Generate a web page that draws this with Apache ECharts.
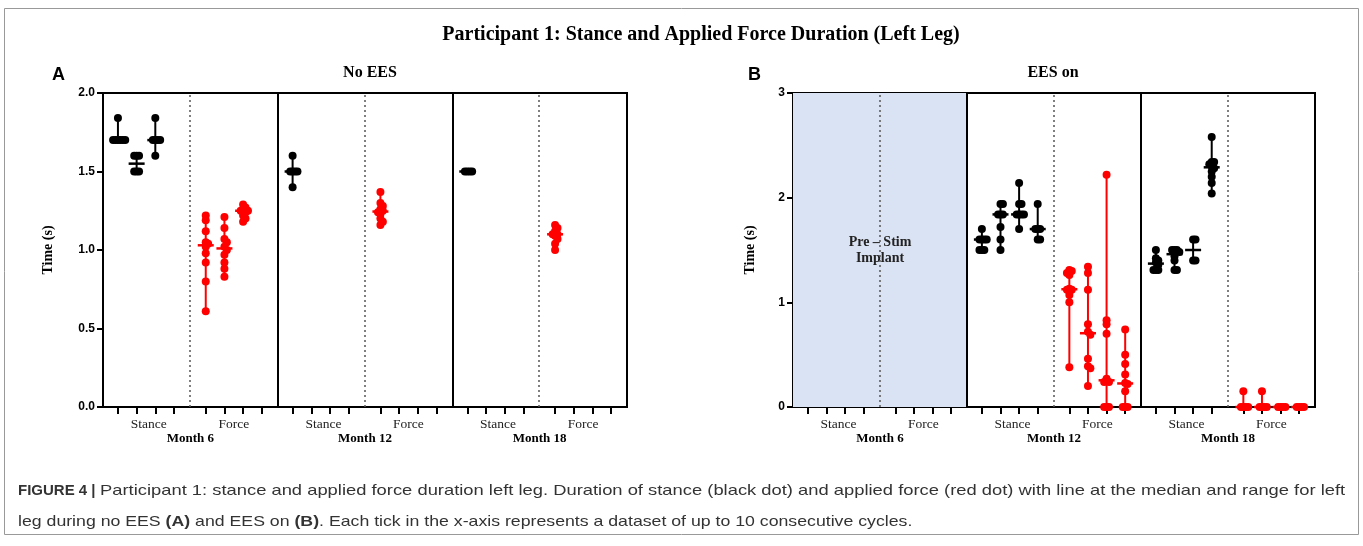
<!DOCTYPE html>
<html>
<head>
<meta charset="utf-8">
<script src="https://cdn.jsdelivr.net/npm/echarts@6.0.0/dist/echarts.min.js"></script>
<style>
  html, body { margin: 0; padding: 0; background: #fff; }
  #chart { width: 1363px; height: 546px; }
</style>
</head>
<body>
<div id="chart"></div>
<script>
// x axis groups
var months = ['Month 6', 'Month 12', 'Month 18'];
var groups = ['Stance', 'Force'];
var yTicksA = [0, 0.5, 1.0, 1.5, 2.0];
var yTicksB = [0, 1, 2, 3];

// A - No EES, one list per tick (dataset of up to 10 cycles), seconds
var aStanceM6 = [
  [1.84, 1.70, 1.70, 1.70, 1.70, 1.70, 1.70],
  [1.60, 1.60, 1.60, 1.50, 1.50, 1.50],
  [1.84, 1.70, 1.70, 1.70, 1.70, 1.60]
];
var aForceM6 = [
  [1.22, 1.19, 1.12, 1.05, 1.04, 1.02, 0.98, 0.92, 0.80, 0.61],
  [1.21, 1.14, 1.07, 1.05, 1.02, 1.00, 0.97, 0.92, 0.88, 0.83],
  [1.29, 1.27, 1.26, 1.25, 1.25, 1.24, 1.22, 1.20, 1.18]
];
var aStanceM12 = [[1.60, 1.50, 1.50, 1.50, 1.50, 1.40]];
var aForceM12 = [[1.37, 1.30, 1.28, 1.26, 1.25, 1.24, 1.23, 1.20, 1.18, 1.16]];
var aStanceM18 = [[1.50, 1.50, 1.50, 1.50]];
var aForceM18 = [[1.16, 1.14, 1.12, 1.10, 1.10, 1.09, 1.07, 1.04, 1.00]];

// B - EES on (month 6 is pre-stim implant, no data)
var bStanceM6 = [];
var bForceM6 = [];
var bStanceM12 = [
  [1.70, 1.60, 1.60, 1.60, 1.60, 1.50, 1.50, 1.50],
  [1.94, 1.94, 1.84, 1.84, 1.84, 1.72, 1.60, 1.50],
  [2.14, 1.94, 1.94, 1.84, 1.84, 1.84, 1.84, 1.70],
  [1.94, 1.70, 1.70, 1.70, 1.60, 1.60]
];
var bForceM12 = [
  [1.31, 1.30, 1.28, 1.26, 1.13, 1.12, 1.12, 1.07, 1.00, 0.38],
  [1.34, 1.28, 1.12, 0.79, 0.72, 0.69, 0.46, 0.39, 0.37, 0.20],
  [2.22, 0.83, 0.79, 0.70, 0.27, 0.24, 0.24, 0, 0, 0],
  [0.74, 0.50, 0.41, 0.31, 0.23, 0.22, 0.15, 0, 0, 0]
];
var bStanceM18 = [
  [1.50, 1.42, 1.40, 1.38, 1.36, 1.31, 1.31, 1.31],
  [1.50, 1.50, 1.50, 1.48, 1.44, 1.40, 1.31, 1.31],
  [1.60, 1.60, 1.40, 1.40],
  [2.58, 2.34, 2.34, 2.32, 2.30, 2.28, 2.25, 2.20, 2.14, 2.04]
];
var bForceM18 = [
  [0.15, 0, 0, 0, 0],
  [0.15, 0, 0, 0, 0],
  [0, 0, 0, 0],
  [0, 0, 0, 0]
];

// layout of one month block, in tick units
var L = 9.35, stanceStart = 0.8, forceStart = 5.5, splitPos = 4.65;
var SERIF = '"Liberation Serif", "Times New Roman", serif';
var SANS = '"Liberation Sans", Arial, sans-serif';

function median(arr) {
  var s = arr.slice().sort(function (a, b) { return a - b; });
  var n = s.length;
  return n % 2 ? s[(n - 1) / 2] : (s[n / 2 - 1] + s[n / 2]) / 2;
}

// spread overlapping dots sideways, like a scatter column plot
function swarm(vals, tolV, step) {
  var placed = [];
  var order = vals.map(function (v, i) { return i; })
    .sort(function (a, b) { return vals[b] - vals[a]; });
  order.forEach(function (i) {
    var v = vals[i];
    for (var k = 0; k < 30; k++) {
      var off = (k % 2 === 1 ? 1 : -1) * Math.ceil(k / 2) * step;
      var clash = placed.some(function (p) {
        return Math.abs(p[1] - v) < tolV && Math.abs(p[0] - off) < step * 0.5;
      });
      if (!clash) { placed.push([off, v]); break; }
    }
  });
  return placed;
}

function buildPanel(stanceByMonth, forceByMonth, tolV) {
  var out = { black: [], red: [], blackSum: [], redSum: [] };
  function add(lists, start, m, dots, sums) {
    lists.forEach(function (vals, i) {
      var x = m * L + start + i;
      swarm(vals, tolV, 0.13).forEach(function (p) { dots.push([x + p[0], p[1]]); });
      sums.push([x, Math.min.apply(null, vals), Math.max.apply(null, vals), median(vals)]);
    });
  }
  for (var m = 0; m < 3; m++) {
    add(stanceByMonth[m], stanceStart, m, out.black, out.blackSum);
    add(forceByMonth[m], forceStart, m, out.red, out.redSum);
  }
  return out;
}

var panelA = buildPanel([aStanceM6, aStanceM12, aStanceM18], [aForceM6, aForceM12, aForceM18], 0.025);
var panelB = buildPanel([bStanceM6, bStanceM12, bStanceM18], [bForceM6, bForceM12, bForceM18], 0.035);

var tickVals = [], stanceLabelVals = [], monthVals = [];
for (var m = 0; m < 3; m++) {
  for (var i = 0; i < 4; i++) {
    tickVals.push(m * L + stanceStart + i);
    tickVals.push(m * L + forceStart + i);
  }
  stanceLabelVals.push(m * L + 2.45, m * L + 7.0);
  monthVals.push(m * L + L / 2);
}

function renderSummary(params, api) {
  var x = api.value(0);
  var lo = api.coord([x, api.value(1)]);
  var hi = api.coord([x, api.value(2)]);
  var md = api.coord([x, api.value(3)]);
  var c = api.visual('color');
  return {
    type: 'group',
    children: [
      { type: 'line', shape: { x1: hi[0], y1: hi[1], x2: lo[0], y2: lo[1] }, style: { stroke: c, lineWidth: 2 } },
      { type: 'line', shape: { x1: md[0] - 8, y1: md[1], x2: md[0] + 8, y2: md[1] }, style: { stroke: c, lineWidth: 2.5 } }
    ]
  };
}

function dividerLines() {
  var d = [];
  for (var m = 0; m < 3; m++) {
    d.push({ xAxis: m * L + splitPos, lineStyle: { type: [2, 3], color: '#555', width: 1.5 } });
    if (m > 0) d.push({ xAxis: m * L, lineStyle: { type: 'solid', color: '#000', width: 2 } });
  }
  return d;
}

function xAxes(g) {
  return [{
    type: 'value', gridIndex: g, position: 'bottom', min: 0, max: 3 * L,
    axisLine: { show: true, lineStyle: { color: '#000', width: 2 } },
    axisTick: { show: true, customValues: tickVals, length: 7, lineStyle: { color: '#000', width: 2 } },
    axisLabel: {
      show: true, customValues: stanceLabelVals, margin: 10,
      fontFamily: SERIF, fontSize: 13.5, color: '#222',
      formatter: function (v) { return (v % L) < splitPos ? groups[0] : groups[1]; }
    },
    splitLine: { show: false }
  }, {
    type: 'value', gridIndex: g, position: 'bottom', min: 0, max: 3 * L,
    axisLine: { show: false }, axisTick: { show: false },
    axisLabel: {
      show: true, customValues: monthVals, margin: 25,
      fontFamily: SERIF, fontSize: 13, fontWeight: 'bold', color: '#000',
      formatter: function (v) { return months[Math.floor(v / L)]; }
    },
    splitLine: { show: false }
  }];
}

function yAxis(g, ticks, digits, gap) {
  return {
    type: 'value', gridIndex: g, min: ticks[0], max: ticks[ticks.length - 1],
    interval: ticks[1] - ticks[0],
    name: 'Time (s)', nameLocation: 'middle', nameGap: gap,
    nameTextStyle: { fontFamily: SERIF, fontWeight: 'bold', fontSize: 14, color: '#000' },
    axisLine: { show: true, lineStyle: { color: '#000', width: 2 } },
    axisTick: { show: true, length: 6, lineStyle: { color: '#000', width: 2 } },
    axisLabel: {
      margin: 8, fontFamily: SANS, fontWeight: 'bold', fontSize: 12, color: '#000',
      formatter: function (v) { return v.toFixed(digits); }
    },
    splitLine: { show: false }
  };
}

function panelSeries(p, g, shaded) {
  var s = [
    {
      type: 'scatter', xAxisIndex: g * 2, yAxisIndex: g, data: [], silent: true, z: 1,
      markLine: { silent: true, symbol: ['none', 'none'], label: { show: false }, data: dividerLines() }
    },
    { type: 'custom', xAxisIndex: g * 2, yAxisIndex: g, renderItem: renderSummary, data: p.blackSum,
      encode: { x: 0, y: [1, 2, 3] }, itemStyle: { color: '#000' }, z: 4, silent: true },
    { type: 'custom', xAxisIndex: g * 2, yAxisIndex: g, renderItem: renderSummary, data: p.redSum,
      encode: { x: 0, y: [1, 2, 3] }, itemStyle: { color: '#ff0000' }, z: 4, silent: true },
    { type: 'scatter', xAxisIndex: g * 2, yAxisIndex: g, data: p.black, symbolSize: 8,
      itemStyle: { color: '#000', opacity: 1 }, clip: false, z: 3, silent: true },
    { type: 'scatter', xAxisIndex: g * 2, yAxisIndex: g, data: p.red, symbolSize: 8,
      itemStyle: { color: '#ff0000', opacity: 1 }, clip: false, z: 3, silent: true }
  ];
  if (shaded) {
    s.push({
      type: 'scatter', xAxisIndex: g * 2, yAxisIndex: g, data: [], silent: true, z: 0,
      markArea: {
        silent: true,
        itemStyle: { color: '#dae3f3' },
        label: {
          show: true, position: 'inside', formatter: 'Pre – Stim\nImplant',
          fontFamily: SERIF, fontWeight: 'bold', fontSize: 14, color: '#222', lineHeight: 16
        },
        data: [[{ xAxis: 0 }, { xAxis: L }]]
      }
    });
  }
  return s;
}

var capFont = '15px ' + SANS;
var capRich = { b: { fontWeight: 'bold', fontFamily: SANS, fontSize: 15, fill: '#333' } };

var chart = echarts.init(document.getElementById('chart'));
chart.setOption({
  backgroundColor: '#fff',
  animation: false,
  grid: [
    { left: 103, top: 93, width: 524, height: 314, show: true, borderColor: '#000', borderWidth: 2 },
    { left: 793, top: 93, width: 522, height: 314, show: true, borderColor: '#000', borderWidth: 2 }
  ],
  xAxis: xAxes(0).concat(xAxes(1)),
  yAxis: [yAxis(0, yTicksA, 1, 48), yAxis(1, yTicksB, 0, 36)],
  series: panelSeries(panelA, 0, false).concat(panelSeries(panelB, 1, true)),
  graphic: [
    { type: 'rect', silent: true, shape: { x: 4.5, y: 8.5, width: 1354, height: 526 },
      style: { fill: 'none', stroke: '#999', lineWidth: 1 } },
    { type: 'text', silent: true, x: 701, y: 35,
      style: { text: 'Participant 1: Stance and Applied Force Duration (Left Leg)', textAlign: 'center',
        textVerticalAlign: 'middle', font: 'bold 20px ' + SERIF, fill: '#000' } },
    { type: 'text', silent: true, x: 370, y: 73,
      style: { text: 'No EES', textAlign: 'center', textVerticalAlign: 'middle', font: 'bold 16px ' + SERIF, fill: '#000' } },
    { type: 'text', silent: true, x: 1053, y: 73,
      style: { text: 'EES on', textAlign: 'center', textVerticalAlign: 'middle', font: 'bold 16px ' + SERIF, fill: '#000' } },
    { type: 'text', silent: true, x: 52, y: 75,
      style: { text: 'A', textAlign: 'left', textVerticalAlign: 'middle', font: 'bold 18px ' + SANS, fill: '#000' } },
    { type: 'text', silent: true, x: 748, y: 75,
      style: { text: 'B', textAlign: 'left', textVerticalAlign: 'middle', font: 'bold 18px ' + SANS, fill: '#000' } },
    { type: 'text', silent: true, x: 18, y: 491,
      style: { text: 'FIGURE 4 |', textAlign: 'left', textVerticalAlign: 'middle',
        font: 'bold 15px ' + SANS, fill: '#333' } },
    { type: 'text', silent: true, x: 100, y: 491, scaleX: 1.224,
      style: {
        text: 'Participant 1: stance and applied force duration left leg. Duration of stance (black dot) and applied force (red dot) with line at the median and range for left',
        textAlign: 'left', textVerticalAlign: 'middle', font: capFont, fill: '#333'
      } },
    { type: 'text', silent: true, x: 18, y: 522, scaleX: 1.18,
      style: {
        text: 'leg during no EES {b|(A)} and EES on {b|(B)}. Each tick in the x-axis represents a dataset of up to 10 consecutive cycles.',
        textAlign: 'left', textVerticalAlign: 'middle', font: capFont, fill: '#333', rich: capRich
      } }
  ]
});
</script>
</body>
</html>
